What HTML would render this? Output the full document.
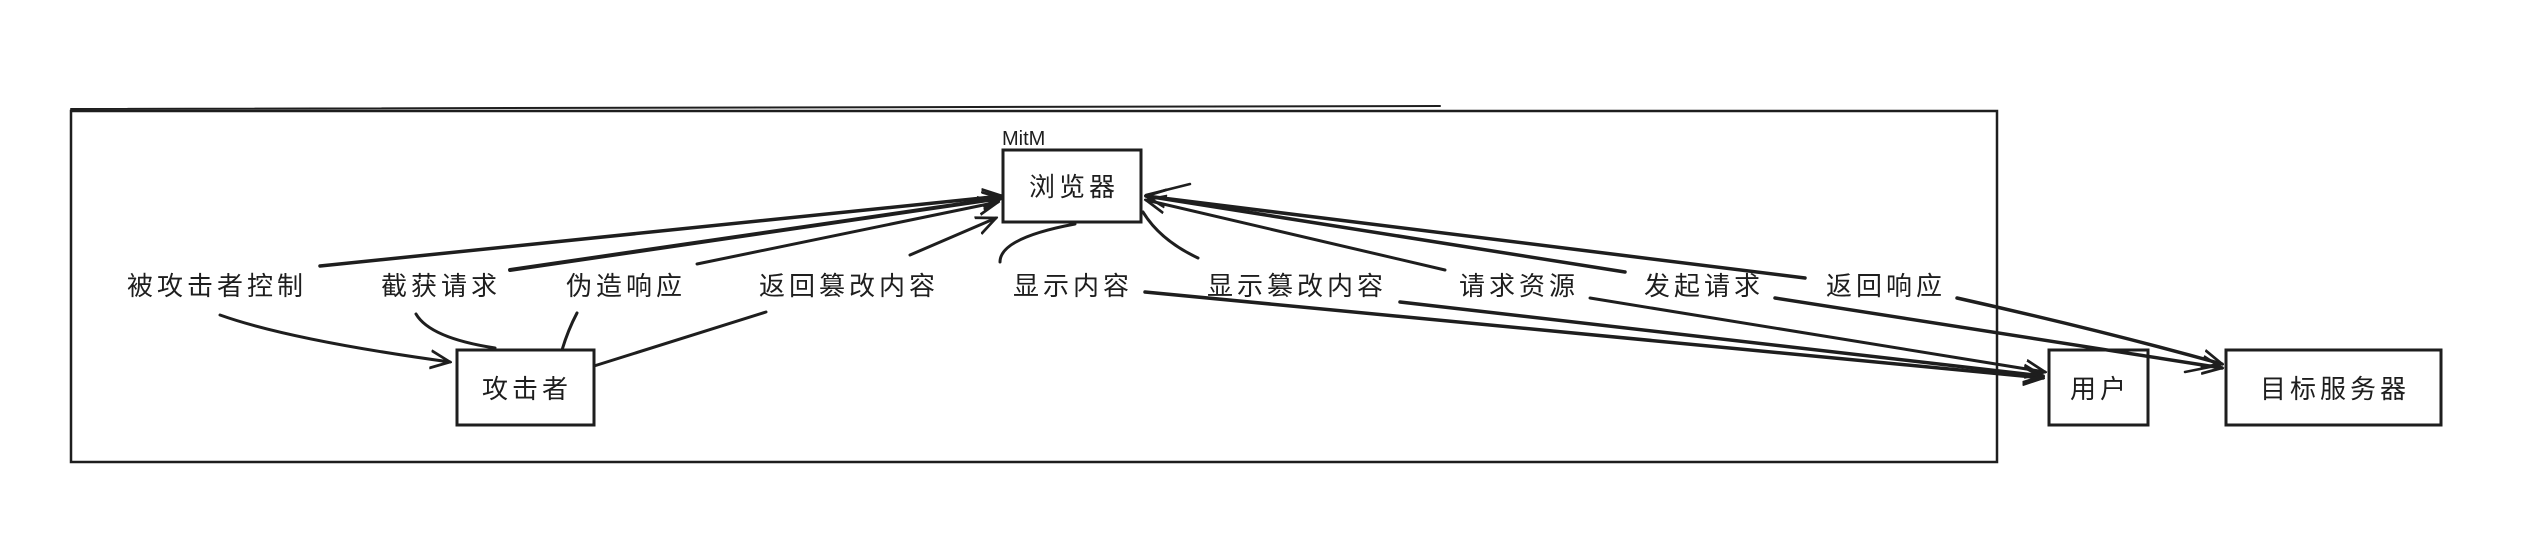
<!DOCTYPE html>
<html><head><meta charset="utf-8"><style>
html,body{margin:0;padding:0;background:#fff;}
svg{display:block}
text{font-family:"Liberation Sans","Noto Sans CJK SC",sans-serif;font-size:26px;letter-spacing:4px;fill:#1e1e1e}
</style></head><body>
<svg width="2523" height="544" viewBox="0 0 2523 544" xmlns="http://www.w3.org/2000/svg">
<defs>
<marker id="a" viewBox="0 0 20 20" refX="18" refY="10" markerWidth="22" markerHeight="22" orient="auto" markerUnits="userSpaceOnUse">
<path d="M0,2 L18,10 L0,18" fill="none" stroke="#1e1e1e" stroke-width="2.5"/>
</marker>
</defs>
<g fill="none" stroke="#1e1e1e" stroke-width="3" stroke-linecap="round">
<rect x="71" y="111" width="1926" height="351" stroke-width="2.5"/>
<path d="M71 109 L1440 106" stroke-width="2"/>
<rect x="1003" y="150" width="138" height="72"/>
<rect x="457" y="350" width="137" height="75"/>
<rect x="2049" y="350" width="99" height="75"/>
<rect x="2226" y="350" width="215" height="75"/>

<path d="M320 266 L1002 196" marker-end="url(#a)" stroke-width="3.5"/>
<path d="M510 270 L1002 198" marker-end="url(#a)" stroke-width="4"/>
<path d="M697 264 L998 202" marker-end="url(#a)"/>
<path d="M910 255 L996 218" marker-end="url(#a)"/>
<path d="M1000 262 Q1000 238 1075 224"/>
<path d="M1198 258 Q1160 240 1143 212"/>
<path d="M1445 270 L1146 200" marker-end="url(#a)"/>
<path d="M1625 272 L1146 196" stroke-width="3.5"/>
<path d="M1805 278 L1146 196" marker-end="url(#a)" stroke-width="3.5"/>
<path d="M1146 195 L1190 184" stroke-width="2.5"/>

<path d="M220 315 Q290 340 450 362" marker-end="url(#a)"/>
<path d="M416 314 Q430 338 495 348"/>
<path d="M577 313 Q568 330 562 350"/>
<path d="M766 312 L594 366"/>
<path d="M1145 292 L2043 378" marker-end="url(#a)" stroke-width="3.5"/>
<path d="M1400 302 L2043 376" marker-end="url(#a)" stroke-width="3.5"/>
<path d="M1590 298 L2045 372" marker-end="url(#a)"/>
<path d="M1775 298 L2222 368" marker-end="url(#a)" stroke-width="3.5"/>
<path d="M1957 298 Q2100 330 2222 364" marker-end="url(#a)" stroke-width="3.5"/>
<path d="M2185 372 L2215 366" stroke-width="2.5"/>
</g>

<text x="1002" y="145" style="font-size:20px;letter-spacing:0">MitM</text>
<text x="1074" y="196" text-anchor="middle">浏览器</text>
<text x="527" y="398" text-anchor="middle">攻击者</text>
<text x="2100" y="398" text-anchor="middle">用户</text>
<text x="2335" y="398" text-anchor="middle">目标服务器</text>

<text x="127" y="295">被攻击者控制</text>
<text x="381" y="295">截获请求</text>
<text x="566" y="295">伪造响应</text>
<text x="759" y="295">返回篡改内容</text>
<text x="1013" y="295">显示内容</text>
<text x="1207" y="295">显示篡改内容</text>
<text x="1459" y="295">请求资源</text>
<text x="1644" y="295">发起请求</text>
<text x="1826" y="295">返回响应</text>
</svg>
</body></html>
